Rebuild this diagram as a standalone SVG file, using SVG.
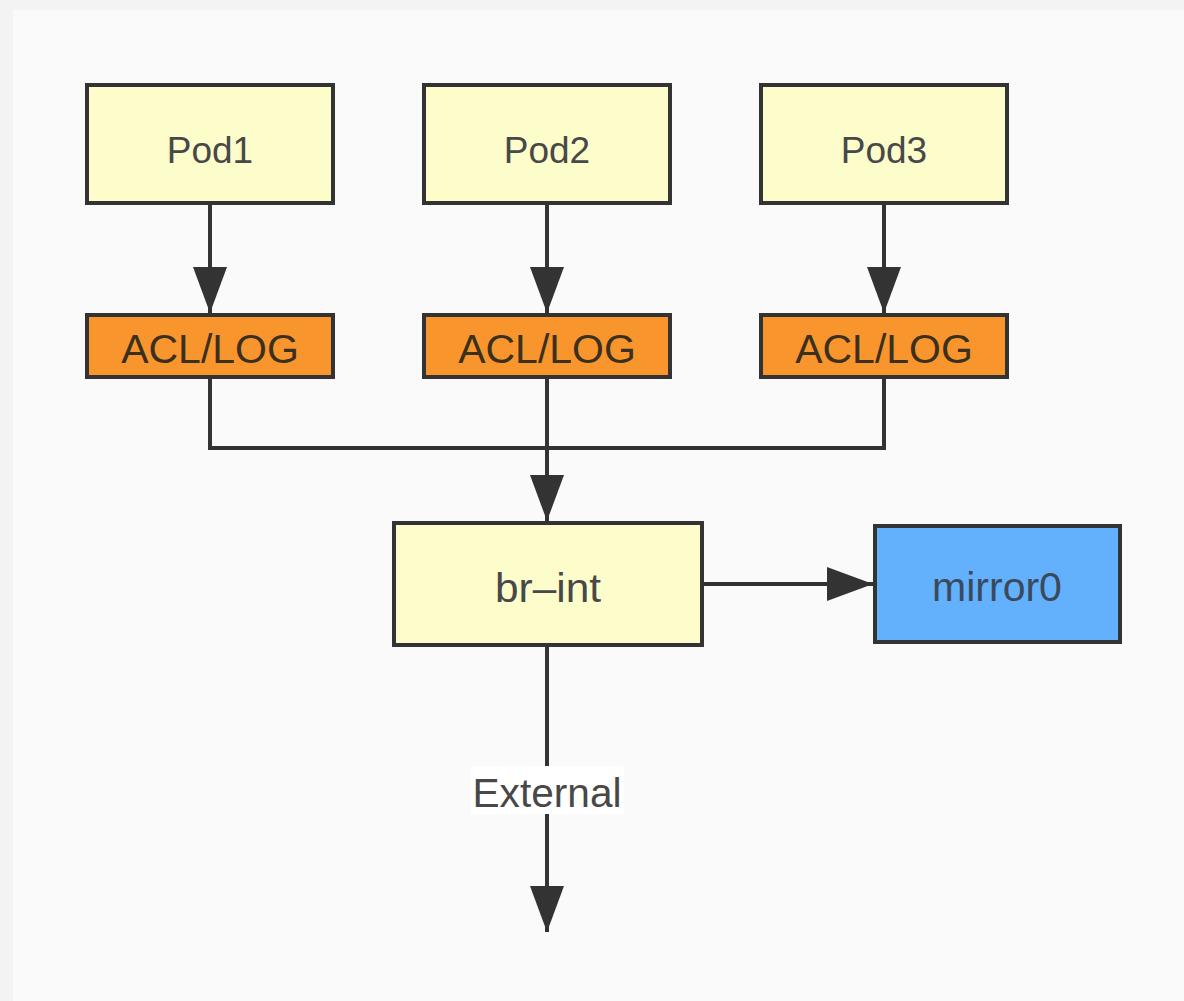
<svg xmlns="http://www.w3.org/2000/svg" width="1184" height="1001" viewBox="0 0 1184 1001">
  <defs>
    <marker id="arrow" markerUnits="userSpaceOnUse" markerWidth="48" markerHeight="36" viewBox="0 0 48 36" refX="46" refY="18" orient="auto">
      <path d="M0,1 L46,18 L0,35 Z" fill="#333333"/>
    </marker>
    <style>
      .box { stroke: #333333; stroke-width: 4; }
      .pod { fill: #fdfdcb; }
      .acl { fill: #f9952d; }
      .mir { fill: #63b0fd; }
      .lbl { font-family: "Liberation Sans", Arial, Helvetica, sans-serif; fill: #484848; text-anchor: middle; }
      .edge { fill: none; stroke: #333333; stroke-width: 4; }
    </style>
  </defs>

  <!-- page background -->
  <rect x="0" y="0" width="1184" height="1001" fill="#f3f3f3"/>
  <rect x="13" y="10" width="1171" height="991" fill="#fafafa"/>

  <!-- connectors -->
  <g id="connectors">
    <line class="edge" x1="210" y1="205" x2="210" y2="313" marker-end="url(#arrow)"/>
    <line class="edge" x1="547" y1="205" x2="547" y2="313" marker-end="url(#arrow)"/>
    <line class="edge" x1="884" y1="205" x2="884" y2="313" marker-end="url(#arrow)"/>
    <polyline class="edge" points="210,379 210,448 884,448 884,379"/>
    <line class="edge" x1="547" y1="379" x2="547" y2="521" marker-end="url(#arrow)"/>
    <line class="edge" x1="704" y1="584" x2="873" y2="584" marker-end="url(#arrow)"/>
    <line class="edge" x1="547" y1="647" x2="547" y2="932" marker-end="url(#arrow)"/>
    <g id="external-label">
      <rect x="471" y="766" width="153" height="48" fill="#ffffff"/>
      <text class="lbl" x="547" y="807" font-size="40" textLength="149" lengthAdjust="spacingAndGlyphs">External</text>
    </g>
  </g>

  <!-- pods -->
  <g id="pod1">
    <rect class="box pod" x="87" y="85" width="246" height="118"/>
    <text class="lbl" x="210" y="163" font-size="37">Pod1</text>
  </g>
  <g id="pod2">
    <rect class="box pod" x="424" y="85" width="246" height="118"/>
    <text class="lbl" x="547" y="163" font-size="37">Pod2</text>
  </g>
  <g id="pod3">
    <rect class="box pod" x="761" y="85" width="246" height="118"/>
    <text class="lbl" x="884" y="163" font-size="37">Pod3</text>
  </g>

  <!-- ACL/LOG stages -->
  <g id="acl1">
    <rect class="box acl" x="87" y="315" width="246" height="62"/>
    <text class="lbl" x="210" y="363" font-size="41" fill="#3b3020" style="fill:#3b3020">ACL/LOG</text>
  </g>
  <g id="acl2">
    <rect class="box acl" x="424" y="315" width="246" height="62"/>
    <text class="lbl" x="547" y="363" font-size="41" style="fill:#3b3020">ACL/LOG</text>
  </g>
  <g id="acl3">
    <rect class="box acl" x="761" y="315" width="246" height="62"/>
    <text class="lbl" x="884" y="363" font-size="41" style="fill:#3b3020">ACL/LOG</text>
  </g>

  <!-- integration bridge -->
  <g id="br-int">
    <rect class="box pod" x="394" y="523" width="308" height="122"/>
    <text class="lbl" x="548" y="602" font-size="40" textLength="106" lengthAdjust="spacingAndGlyphs">br–int</text>
  </g>

  <!-- mirror port -->
  <g id="mirror0">
    <rect class="box mir" x="875" y="526" width="245" height="116"/>
    <text class="lbl" x="997" y="601" font-size="41" style="fill:#3a4a5a">mirror0</text>
  </g>
</svg>
